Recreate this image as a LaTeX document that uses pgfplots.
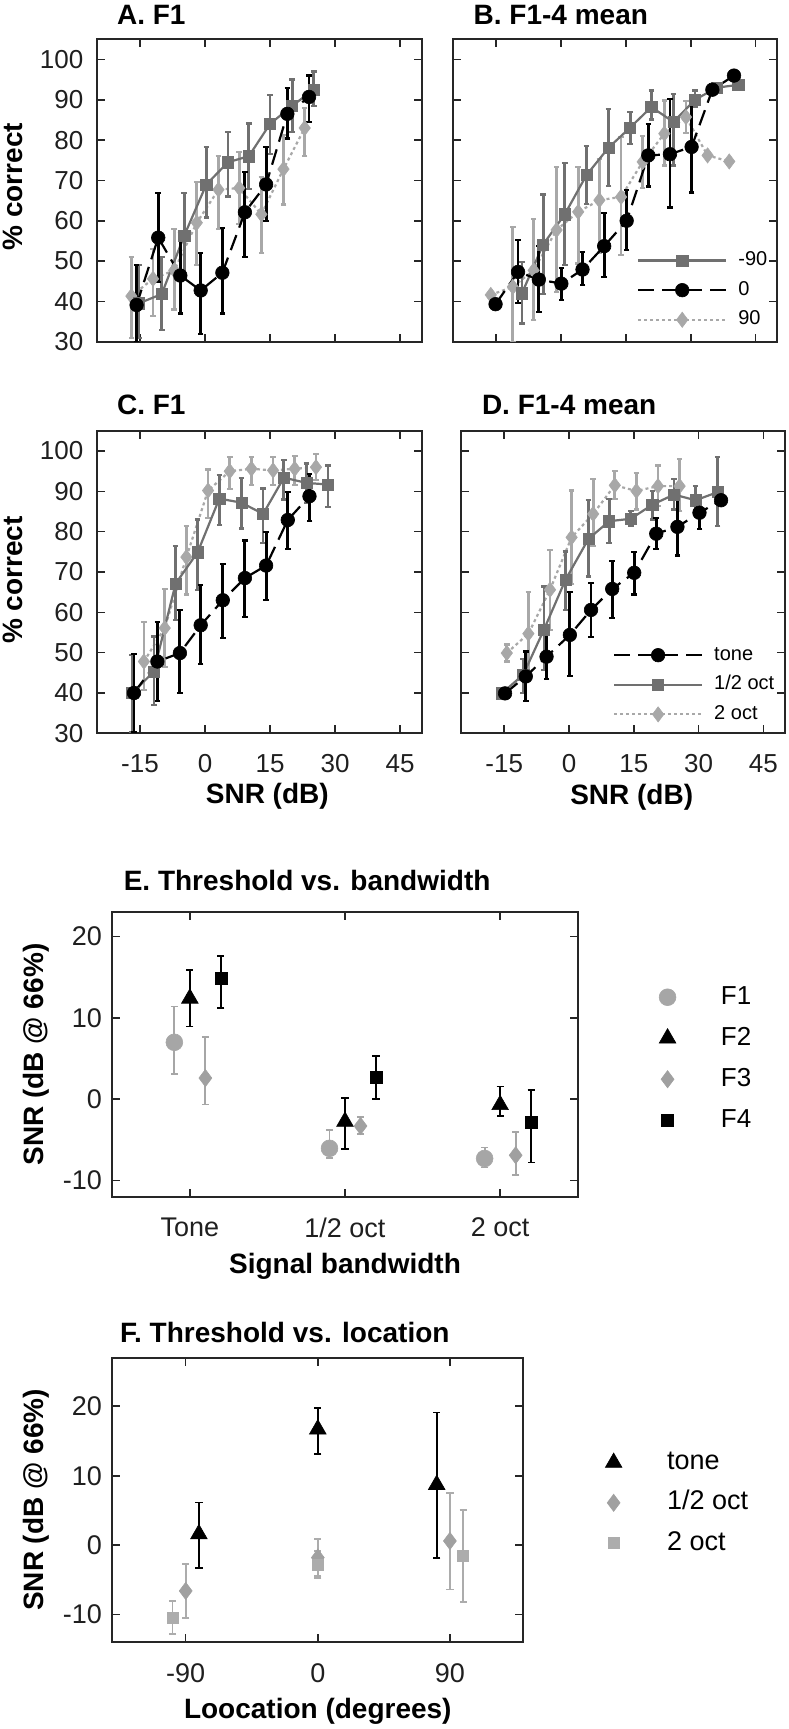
\documentclass[border=0pt]{standalone}
\usepackage{fontspec}
\setmainfont{Liberation Sans}
\usepackage{pgfplots}
\pgfplotsset{compat=1.18}
\definecolor{axcol}{RGB}{38,38,38}
\definecolor{dg}{RGB}{112,112,112}
\definecolor{lg}{RGB}{168,168,168}
\definecolor{eg}{RGB}{166,166,166}
\definecolor{fg}{RGB}{160,160,160}
\definecolor{hg}{RGB}{172,172,172}

\pgfplotsset{
  panel/.style={
    scale only axis,
    axis line style={draw=axcol, line width=0.9pt},
    tick align=inside, tick pos=both,
    major tick length=4pt,
    tick style={draw=axcol, line width=0.8pt},
    tick label style={font=\fontsize{13}{15}\selectfont, text=black!88},
    yticklabel style={xshift=-3.2pt},
    xticklabel style={yshift=-6.9pt},
    every axis title/.style={anchor=west, font=\fontsize{14}{16}\selectfont\bfseries},
    every axis x label/.style={anchor=center, font=\fontsize{14}{16}\selectfont\bfseries},
    every axis y label/.style={anchor=center, rotate=90, font=\fontsize{14}{16}\selectfont\bfseries},
  },
  snr/.style={panel, height=151.2pt, xmin=-25, xmax=50, ymin=30, ymax=105,
    xtick={-15,0,15,30,45}, ytick={30,40,50,60,70,80,90,100}},
  linelegend/.style={
    legend cell align=left,
    legend image code/.code={\draw[mark repeat=2,mark phase=2,##1] plot coordinates {(0pt,0pt) (22pt,0pt) (44pt,0pt)};
      \path (0pt,0pt) (49.5pt,0pt);},
  },
  marklegend/.style={
    legend cell align=left,
    legend image code/.code={\draw[mark repeat=2,mark phase=2,##1] plot coordinates {(0pt,0pt) (8pt,0pt) (16pt,0pt)};
      \path (0pt,0pt) (34.5pt,0pt);},
  },
  Lsq/.style={draw=dg, solid, line width=1.1pt, mark=square*, mark size=2.8pt, mark options={solid, fill=dg, draw=dg, line width=0.3pt}},
  Lci/.style={draw=black, dash pattern=on 8pt off 4pt, line width=1.1pt, mark=*, mark size=3.4pt, mark options={solid, fill=black, draw=black, line width=0.3pt}},
  Ldi/.style={draw=lg, dash pattern=on 1.5pt off 1.5pt, line width=1.1pt, mark=diamond*, mark size=3.8pt, mark options={solid, fill=lg, draw=lg, line width=0.3pt}},
  Eb/.style={error bars/.cd, y dir=both, y explicit, error bar style={line width=1.4pt, solid, draw=#1}, error mark options={rotate=90, line width=1.1pt, mark size=1.4pt, draw=#1, solid}},
  MkL/.style n args={3}{only marks, mark=#1, mark size=#2, mark options={solid, fill=#3, draw=#3, line width=0.3pt}},
  Ebs/.style={error bars/.cd, y dir=both, y explicit, error bar style={line width=0.9pt, solid, draw=#1}, error mark options={rotate=90, line width=0.9pt, mark size=1.8pt, draw=#1, solid}},
}

\begin{document}
\begin{tikzpicture}
\useasboundingbox (0,0) rectangle (394pt,864.5pt);

% ---------------- A ----------------
\begin{axis}[snr, at={(48.35pt,693.65pt)}, anchor=south west, width=162.5pt,
  xticklabels={}, yticklabels={30,40,50,60,70,80,90,100},
  title={A. F1}, title style={at={(axis description cs:0.041,1.080)}},
  ylabel={\% correct}, ylabel style={at={(axis description cs:-0.257,0.513)}}]
\addplot[Ldi, Eb=lg] table[x=x,y=y,y error plus=ep,y error minus=em] {
x y ep em
-17 41.3 9.7 10.3
-12 45.6 7.4 9.2
-7.1 47.7 10.3 9.7
-1.9 59.5 10.1 10.5
3.1 67.7 8.3 9.7
7.9 68.1 8.9 9.0
13 61.6 9.3 9.7
18.1 72.8 8.4 8.8
23 83.0 5.0 6.9
};
\addplot[Lsq, Eb=dg] table[x=x,y=y,y error plus=ep,y error minus=em] {
x y ep em
-15.3 39.5 9.5 8.5
-10 41.8 9.2 8.9
-4.8 56.3 10.6 10.6
0.3 69.0 9.3 8.2
5.3 74.5 7.6 8.5
10.1 76.0 8.1 8.2
15 84.0 7.1 7.4
20.1 88.5 6.5 6.5
25.1 92.5 4.5 4.0
};
\addplot[Lci, Eb=black] table[x=x,y=y,y error plus=ep,y error minus=em] {
x y ep em
-15.8 39.1 9.9 9.1
-10.8 55.8 11.1 11.0
-5.7 46.4 10.6 9.4
-1 42.7 9.3 10.7
4 47.1 11.1 10.1
9.2 62.1 9.9 11.1
14.1 69.0 9.2 9.0
19 86.5 6.5 6.1
24 90.7 5.3 6.2
};
\end{axis}

% ---------------- B ----------------
\begin{axis}[snr, linelegend, at={(226.35pt,693.65pt)}, anchor=south west, width=162.3pt,
  xticklabels={}, yticklabels={},
  title={B. F1-4 mean}, title style={at={(axis description cs:0.043,1.080)}},
  legend style={at={(axis description cs:0.567,0.300)}, anchor=north west, draw=none, fill=none,
    inner sep=0pt, font=\fontsize{10}{12}\selectfont, row sep=5.6pt, /tikz/column sep=0pt,
    nodes={inner sep=0pt, text height=7.2pt, text depth=2pt}}]
\addlegendimage{Lsq}\addlegendentry{-90}
\addlegendimage{Lci}\addlegendentry{0}
\addlegendimage{Ldi}\addlegendentry{90}
\addplot[forget plot, Ldi, Eb=lg] table[x=x,y=y,y error plus=ep,y error minus=em] {
x y ep em
-16.2 41.6 0.5 0.5
-11.1 43.6 14.9 13.6
-6.3 47.7 12.7 12.3
-1 57.7 15.6 15.3
4 62.2 11.1 12.8
8.9 65.1 10.3 13.1
13.9 65.9 14.9 14.4
18.9 74.6 6.4 6.4
23.9 81.6 8.2 7.9
28.9 85.7 4.0 4.0
33.9 76.2 0.5 0.5
38.9 74.7 0.5 0.5
};
\addplot[forget plot, Lsq, Eb=dg] table[x=x,y=y,y error plus=ep,y error minus=em] {
x y ep em
-9 42.0 7.8 7.5
-4.1 54.1 12.4 12.3
0.9 61.6 12.7 12.6
5.9 71.3 7.2 7.2
11 78.1 9.7 9.5
16 83.1 3.9 4.0
20.9 88.2 4.1 3.1
26 84.5 7.0 10.8
31 90.0 2.3 1.8
36 93.0 0.5 0.5
41 93.7 0.3 0.3
};
\addplot[forget plot, Lci, Eb=black] table[x=x,y=y,y error plus=ep,y error minus=em] {
x y ep em
-15.1 39.3 0.5 0.5
-9.9 47.3 8.0 7.8
-5.1 45.4 8.3 8.0
0.1 44.4 3.9 4.1
5 47.9 4.4 3.9
10 53.7 8.3 7.6
15.2 60.0 7.6 7.3
20.2 76.2 7.7 7.7
25.2 76.5 13.6 13.2
30.2 78.3 11.5 11.3
35 92.5 0.5 0.5
40 96.0 0.3 0.3
};
\end{axis}

% ---------------- C ----------------
\begin{axis}[snr, at={(48.35pt,497.85pt)}, anchor=south west, width=162.5pt,
  xticklabels={-15,0,15,30,45}, yticklabels={30,40,50,60,70,80,90,100},
  title={C. F1}, title style={at={(axis description cs:0.041,1.086)}},
  ylabel={\% correct}, ylabel style={at={(axis description cs:-0.257,0.507)}},
  xlabel={SNR (dB)}, xlabel style={at={(axis description cs:0.525,-0.209)}}]
\addplot[Ldi, Eb=lg] table[x=x,y=y,y error plus=ep,y error minus=em] {
x y ep em
-14.1 47.8 9.9 7.0
-9.3 56.1 9.7 9.7
-4.3 73.7 7.7 9.3
0.7 90.2 5.2 6.8
5.7 95.0 3.5 4.5
10.7 95.6 2.9 4.1
15.7 95.2 3.3 3.7
20.7 95.6 3.2 4.1
25.6 96.0 3.2 3.2
};
\addplot[Lsq, Eb=dg] table[x=x,y=y,y error plus=ep,y error minus=em] {
x y ep em
-16.8 40.0 9.5 9.6
-11.8 45.3 8.7 8.3
-6.8 67.1 9.3 9.1
-1.7 74.9 8.1 9.3
3.3 88.2 5.8 6.6
8.4 87.2 6.2 6.4
13.4 84.4 6.3 7.2
18.2 93.4 4.4 5.4
23.4 92.1 4.8 4.9
28.4 91.7 4.7 5.6
};
\addplot[Lci, Eb=black] table[x=x,y=y,y error plus=ep,y error minus=em] {
x y ep em
-16.4 40.0 9.6 9.6
-11 47.8 9.9 9.7
-5.8 49.9 10.7 9.9
-1 56.8 10.0 9.7
4.1 63.0 9.0 9.4
9.2 68.5 9.3 9.7
14.1 71.6 8.3 8.6
19.1 82.9 6.9 7.2
24.1 88.8 5.6 6.2
};
\end{axis}

% ---------------- D ----------------
\begin{axis}[snr, linelegend, at={(230.5pt,497.85pt)}, anchor=south west, width=162pt,
  xticklabels={-15,0,15,30,45}, yticklabels={},
  title={D. F1-4 mean}, title style={at={(axis description cs:0.043,1.086)}},
  xlabel={SNR (dB)}, xlabel style={at={(axis description cs:0.527,-0.210)}},
  legend style={at={(axis description cs:0.468,0.290)}, anchor=north west, draw=none, fill=none,
    inner sep=0pt, font=\fontsize{10}{12}\selectfont, row sep=5.6pt, /tikz/column sep=0pt,
    nodes={inner sep=0pt, text height=7.2pt, text depth=2pt}}]
\addlegendimage{Lci}\addlegendentry{tone}
\addlegendimage{Lsq}\addlegendentry{1/2 oct}
\addlegendimage{Ldi}\addlegendentry{2 oct}
\addplot[forget plot, Ldi, Eb=lg] table[x=x,y=y,y error plus=ep,y error minus=em] {
x y ep em
-14.4 49.9 2.1 2.1
-9.4 54.7 10.3 10.2
-4.4 65.6 9.8 9.9
0.6 78.6 11.6 11.5
5.6 84.4 8.7 8.0
10.6 91.5 3.5 3.3
15.6 90.1 4.5 4.6
20.6 91.3 5.1 5.0
25.6 91.3 6.8 6.2
};
\addplot[forget plot, Lsq, Eb=dg] table[x=x,y=y,y error plus=ep,y error minus=em] {
x y ep em
-15.6 39.9 0.5 0.5
-10.6 44.5 3.9 4.6
-5.8 55.7 10.7 10.1
-0.8 68.1 7.0 7.5
4.5 78.2 9.6 9.3
9.3 82.6 5.6 5.4
14.3 83.2 1.9 1.8
19.3 86.7 3.4 3.7
24.3 89.2 3.8 3.7
29.3 87.8 3.5 3.1
34.4 89.8 8.7 8.3
};
\addplot[forget plot, Lci, Eb=black] table[x=x,y=y,y error plus=ep,y error minus=em] {
x y ep em
-14.8 39.9 0.5 0.5
-10 44.1 6.2 6.0
-5.2 49.0 6.3 5.6
0.2 54.4 10.6 10.1
5.1 60.6 6.7 6.8
10 65.8 6.9 7.2
15.1 69.8 5.1 5.4
20.2 79.5 3.9 3.8
25.1 81.2 7.0 7.1
30.2 84.7 3.9 4.0
35.2 87.8 0.5 0.5
};
\end{axis}

% ---------------- E ----------------
\begin{axis}[panel, marklegend, at={(56.15pt,266.15pt)}, anchor=south west, width=232.7pt, height=142.2pt,
  xmin=0.5, xmax=3.5, ymin=-12, ymax=23,
  xtick={1,2,3}, xticklabels={Tone,1/2 oct,2 oct},
  ytick={-10,0,10,20}, yticklabels={-10,0,10,20},
  tick label style={font=\fontsize{13.5}{15}\selectfont},
  yticklabel style={xshift=1.5pt},
  title={E. Threshold vs. bandwidth}, title style={at={(axis description cs:0.0095,1.111)}},
  xlabel={Signal bandwidth}, xlabel style={at={(axis description cs:0.5,-0.246)}},
  ylabel={SNR (dB @ 66\%)}, ylabel style={at={(axis description cs:-0.163,0.5)}},
  legend style={at={(axis description cs:1.157,0.745)}, anchor=north west, draw=none, fill=none,
    inner sep=0pt, font=\fontsize{13}{15}\selectfont, row sep=8.5pt, /tikz/column sep=0pt,
    nodes={inner sep=0pt, text height=9.5pt, text depth=2.5pt}}]
\addplot[MkL={*}{4.2pt}{eg}, Ebs=eg] table[x=x,y=y,y error plus=ep,y error minus=em] {
x y ep em
0.9 7.0 4.4 3.9
1.9 -6.05 2.3 1.2
2.9 -7.3 1.35 1.1
};
\addlegendentry{F1}
\addplot[MkL={triangle*}{4.8pt}{black}, Ebs=black] table[x=x,y=y,y error plus=ep,y error minus=em] {
x y ep em
1.0 12.4 3.5 3.45
2.0 -2.75 2.9 3.4
3.0 -0.7 2.25 1.35
};
\addlegendentry{F2}
\addplot[MkL={diamond*}{4.3pt}{fg}, Ebs=eg] table[x=x,y=y,y error plus=ep,y error minus=em] {
x y ep em
1.1 2.6 5.1 3.25
2.1 -3.3 1.1 1.0
3.1 -6.9 2.85 2.45
};
\addlegendentry{F3}
\addplot[MkL={square*}{3pt}{black}, Ebs=black] table[x=x,y=y,y error plus=ep,y error minus=em] {
x y ep em
1.2 14.9 2.7 3.7
2.2 2.7 2.6 2.7
3.2 -2.9 4.05 4.9
};
\addlegendentry{F4}
\end{axis}

% ---------------- F ----------------
\begin{axis}[panel, marklegend, at={(56.15pt,43.35pt)}, anchor=south west, width=205.5pt, height=142.3pt,
  xmin=-140, xmax=140, ymin=-14, ymax=27,
  xtick={-90,0,90}, xticklabels={-90,0,90},
  ytick={-10,0,10,20}, yticklabels={-10,0,10,20},
  tick label style={font=\fontsize{13.5}{15}\selectfont},
  yticklabel style={xshift=1.5pt},
  title={F. Threshold vs. location}, title style={at={(axis description cs:0.002,1.089)}},
  xlabel={Loocation (degrees)}, xlabel style={at={(axis description cs:0.5,-0.244)}},
  ylabel={SNR (dB @ 66\%)}, ylabel style={at={(axis description cs:-0.186,0.5)}},
  legend style={at={(axis description cs:1.179,0.677)}, anchor=north west, draw=none, fill=none,
    inner sep=0pt, font=\fontsize{13.5}{15}\selectfont, row sep=7.5pt, /tikz/column sep=0pt,
    nodes={inner sep=0pt, text height=9.8pt, text depth=2.8pt}}]
\addplot[MkL={triangle*}{4.8pt}{black}, Ebs=black] table[x=x,y=y,y error plus=ep,y error minus=em] {
x y ep em
-81 1.6 4.55 4.85
0 16.7 3.1 3.6
81 8.7 10.4 10.6
};
\addlegendentry{tone}
\addplot[MkL={diamond*}{4.3pt}{fg}, Ebs=hg] table[x=x,y=y,y error plus=ep,y error minus=em] {
x y ep em
-90 -6.6 3.9 3.95
0 -1.8 2.7 2.6
90 0.6 6.9 7.0
};
\addlegendentry{1/2 oct}
\addplot[MkL={square*}{2.75pt}{hg}, Ebs=hg] table[x=x,y=y,y error plus=ep,y error minus=em] {
x y ep em
-99 -10.4 2.3 2.4
0 -2.8 1.9 1.9
99 -1.5 6.6 6.7
};
\addlegendentry{2 oct}
\end{axis}
\end{tikzpicture}
\end{document}
